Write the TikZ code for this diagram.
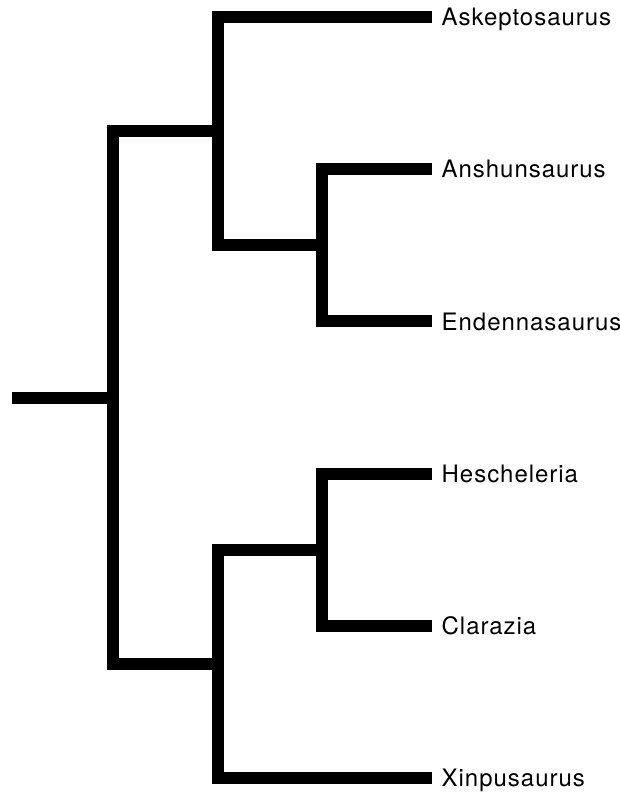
\documentclass[tikz,border=0pt]{standalone}
\usepackage{fontspec}
\setmainfont{TeX Gyre Heros}[LetterSpace=4]
\begin{document}
\begin{tikzpicture}[x=1pt,y=-1pt,
  branch/.style={line width=12pt,line cap=butt,line join=miter},
  taxon/.style={anchor=base west,inner sep=0pt,font=\fontsize{24}{29}\selectfont}]
\useasboundingbox (0,0) rectangle (620,800);
% tips
\coordinate (tA) at (432,17);
\coordinate (tB) at (432,169.2);
\coordinate (tC) at (432,321.4);
\coordinate (tD) at (432,473.6);
\coordinate (tE) at (432,625.8);
\coordinate (tF) at (432,778);
% internal nodes
\coordinate (nBC) at (321.5,245.3);
\coordinate (nDE) at (321.5,549.7);
\coordinate (nU) at (217.5,131.2);
\coordinate (nL) at (217.5,663.9);
\coordinate (nR) at (113.3,397.6);
\coordinate (root) at (11.7,397.6);
% labels
\node[taxon] (lA) at (441.5,17+8.6) {Askeptosaurus};
\node[taxon] (lB) at (441.5,169.2+8.6) {Anshunsaurus};
\node[taxon] (lC) at (441.5,321.4+8.6) {Endennasaurus};
\node[taxon] (lD) at (441.5,473.6+8.6) {Hescheleria};
\node[taxon] (lE) at (441.5,625.8+8.6) {Clarazia};
\node[taxon] (lF) at (441.5,778+8.6) {Xinpusaurus};
% branches
\draw[branch] (tB) -- (tB -| nBC) -- (tC -| nBC) -- (tC);
\draw[branch] (tD) -- (tD -| nDE) -- (tE -| nDE) -- (tE);
\draw[branch] (tA) -- (tA -| nU) -- (nBC -| nU) -- (nBC);
\draw[branch] (nDE) -- (nDE -| nL) -- (tF -| nL) -- (tF);
\draw[branch] (nU) -- (nU -| nR) -- (nL -| nR) -- (nL);
\draw[branch] (root) -- (nR);
\end{tikzpicture}
\end{document}
